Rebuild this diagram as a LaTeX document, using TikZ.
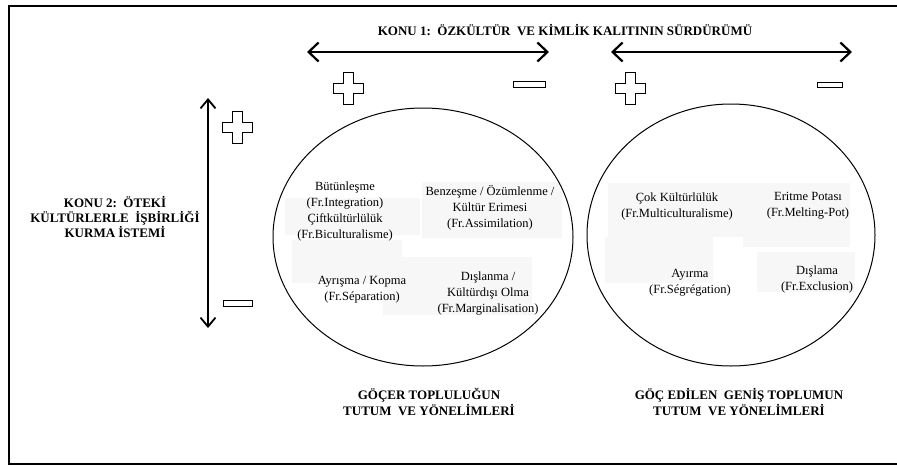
\documentclass[tikz,border=0pt]{standalone}
\usepackage{fontspec}
\setmainfont{Liberation Serif}
\usetikzlibrary{arrows.meta,positioning}

% outlined plus sign, centred at #1
\newcommand{\arti}[1]{%
  \draw[sign,shift={#1}] (-5,-16) -- (5,-16) -- (5,-5) -- (15,-5) -- (15,5) -- (5,5)
    -- (5,16) -- (-5,16) -- (-5,5) -- (-15,5) -- (-15,-5) -- (-5,-5) -- cycle;}

\begin{document}
\begin{tikzpicture}[x=1pt,y=-1pt,thick,
  konu node/.style={font=\bfseries\fontsize{13}{15}\selectfont,align=center,inner sep=0pt},
  grup node/.style={font=\bfseries\fontsize{13}{16}\selectfont,align=center,inner sep=0pt},
  terim node/.style={font=\fontsize{12.5}{16}\selectfont,align=center,inner sep=0pt},
  sign/.style={draw,line width=0.9pt,fill=white},
  shade box/.style={fill=black!3},
  wide axis/.style={{Straight Barb[length=10pt,width=19pt]}-{Straight Barb[length=10pt,width=19pt]},line width=2.2pt},
  tall axis/.style={{Straight Barb[length=9pt,width=15pt]}-{Straight Barb[length=9pt,width=15pt]},line width=1.8pt}]

  \useasboundingbox (0,0) rectangle (897,466);
  \draw[line width=2.3pt] (897,6) -- (9,6) -- (9,464) -- (897,464);

  % faint boxes behind the terms
  \fill[shade box] (285,198) rectangle (420,235);
  \fill[shade box] (292,240) rectangle (402,283);
  \fill[shade box] (422,182) rectangle (562,238);
  \fill[shade box] (383,257) rectangle (532,315);
  \fill[shade box] (608,183) rectangle (750,237);
  \fill[shade box] (743,183) rectangle (850,247);
  \fill[shade box] (605,237) rectangle (713,283);
  \fill[shade box] (757,252) rectangle (855,292);

  % the two ovals
  \draw[line width=1pt] (423,237) ellipse [x radius=150, y radius=129];
  \draw[line width=1pt] (731,235) ellipse [x radius=144, y radius=131];

  % axes
  \coordinate (k1a) at (307,52);
  \coordinate (k1b) at (549,52);
  \coordinate (k2a) at (611,52);
  \coordinate (k2b) at (852,52);
  \coordinate (isa) at (208,98);
  \coordinate (isb) at (208,328);
  \draw[wide axis] (k1a) -- (k1b);
  \draw[wide axis] (k2a) -- (k2b);
  \draw[tall axis] (isa) -- (isb);

  % plus and minus signs
  \arti{(348,88)}
  \arti{(630,88)}
  \arti{(237,127)}
  \draw[sign] (513,81) rectangle (545,87);
  \draw[sign] (817,82) rectangle (842,87);
  \draw[sign] (223,300) rectangle (252,306);

  % headings
  \node[konu node] (konu1) at (565,30) {KONU 1:\ \ ÖZKÜLTÜR\ \ VE KİMLİK KALITININ SÜRDÜRÜMÜ};
  \node[konu node] (konu2) at (115,217) {KONU 2:\ \ ÖTEKİ\\KÜLTÜRLERLE\ \ İŞBİRLİĞİ\\KURMA İSTEMİ};
  \node[grup node] (gocer) at (429,402) {GÖÇER TOPLULUĞUN\\TUTUM\ \ VE YÖNELİMLERİ};
  \node[grup node] (genis) at (739,402) {GÖÇ EDİLEN\ \ GENİŞ TOPLUMUN\\TUTUM\ \ VE YÖNELİMLERİ};

  % terms in the left oval
  \node[terim node] (butun) at (345,211) {Bütünleşme\\(Fr.Integration)\\Çiftkültürlülük\\(Fr.Biculturalisme)};
  \node[terim node] (benzes) at (490,208) {Benzeşme / Özümlenme /\\Kültür Erimesi\\(Fr.Assimilation)};
  \node[terim node] (ayris) at (362,290) {Ayrışma / Kopma\\(Fr.Séparation)};
  \node[terim node] (dislan) at (488,294) {Dışlanma /\\Kültürdışı Olma\\(Fr.Marginalisation)};

  % terms in the right oval
  \node[terim node] (cok) at (677,206) {Çok Kültürlülük\\(Fr.Multiculturalisme)};
  \node[terim node] (eritme) at (808,206) {Eritme Potası\\(Fr.Melting-Pot)};
  \node[terim node] (ayirma) at (690,283) {Ayırma\\(Fr.Ségrégation)};
  \node[terim node] (dislama) at (817,279) {Dışlama\\(Fr.Exclusion)};
\end{tikzpicture}
\end{document}
